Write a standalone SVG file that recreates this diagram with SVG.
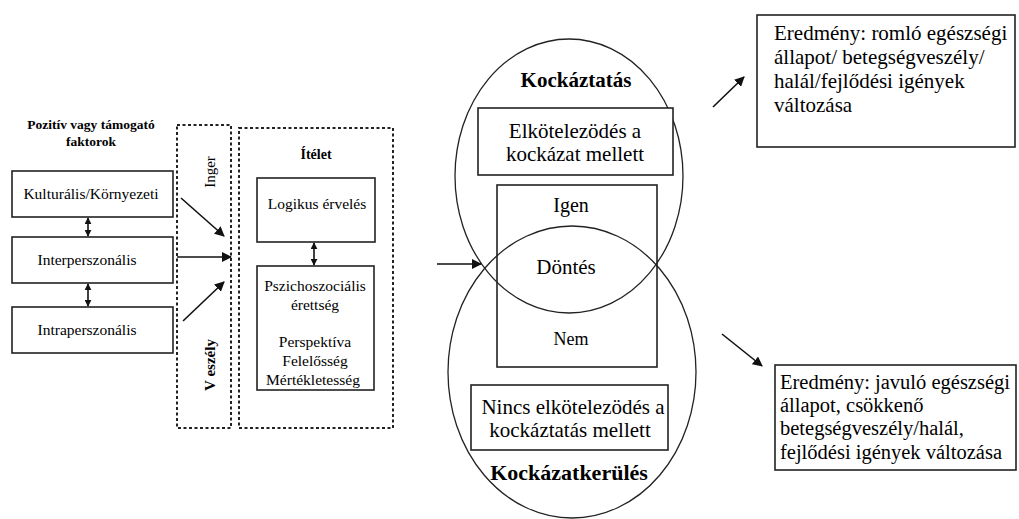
<svg xmlns="http://www.w3.org/2000/svg" width="1019" height="519" viewBox="0 0 1019 519">
<defs>
<marker id="ah" viewBox="0 0 10 10" refX="9" refY="5" markerWidth="10" markerHeight="10" markerUnits="userSpaceOnUse" orient="auto">
<path d="M0,0 L10,5 L0,10 z" fill="#111"/>
</marker>
<marker id="ahs" viewBox="0 0 10 10" refX="9" refY="5" markerWidth="7" markerHeight="7" markerUnits="userSpaceOnUse" orient="auto-start-reverse">
<path d="M0,0 L10,5 L0,10 z" fill="#111"/>
</marker>
</defs>
<style>
.box{fill:#fff;stroke:#222;stroke-width:1.6}
.dash{fill:none;stroke:#222;stroke-width:2;stroke-dasharray:3,2.5}
.ell{fill:none;stroke:#222;stroke-width:1.3}
.ln{stroke:#111;stroke-width:1.6;fill:none}
</style>
<rect width="1019" height="519" fill="#fff"/>
<g id="title">
<text font-family="'Liberation Serif', serif" font-size="13.5" font-weight="bold" text-anchor="middle" x="91" y="129">Pozitív vagy támogató</text>
<text font-family="'Liberation Serif', serif" font-size="13.5" font-weight="bold" text-anchor="middle" x="91" y="146">faktorok</text>
</g>
<g id="kulturalis">
<rect class="box" x="12" y="171" width="161" height="46"/>
<text font-family="'Liberation Serif', serif" font-size="15.5" text-anchor="middle" x="91" y="199">Kulturális/Környezeti</text>
</g>
<g id="interperszonalis">
<rect class="box" x="12" y="237" width="161" height="46"/>
<text font-family="'Liberation Serif', serif" font-size="15.5" text-anchor="middle" x="87" y="265">Interperszonális</text>
</g>
<g id="intraperszonalis">
<rect class="box" x="12" y="307" width="161" height="46"/>
<text font-family="'Liberation Serif', serif" font-size="15.5" text-anchor="middle" x="87" y="335">Intraperszonális</text>
</g>
<g id="inger-veszely">
<rect class="dash" x="177" y="125" width="54" height="303"/>
<text font-family="'Liberation Serif', serif" font-size="15" text-anchor="middle" transform="translate(215,172) rotate(-90)">Inger</text>
<text font-family="'Liberation Serif', serif" font-size="15" font-weight="bold" text-anchor="middle" transform="translate(215,365) rotate(-90)">V eszély</text>
</g>
<g id="itelet">
<rect class="dash" x="239" y="128" width="154" height="300"/>
<text font-family="'Liberation Serif', serif" font-size="14" font-weight="bold" text-anchor="middle" x="316" y="159">Ítélet</text>
</g>
<g id="logikus">
<rect class="box" x="257" y="178" width="118" height="64"/>
<text font-family="'Liberation Serif', serif" font-size="15.5" text-anchor="middle" x="317" y="209">Logikus érvelés</text>
</g>
<g id="pszichoszocialis">
<rect class="box" x="257" y="266" width="117" height="124"/>
<text font-family="'Liberation Serif', serif" font-size="15.5" text-anchor="middle" x="315" y="291">Pszichoszociális</text>
<text font-family="'Liberation Serif', serif" font-size="15.5" text-anchor="middle" x="315" y="310">érettség</text>
<text font-family="'Liberation Serif', serif" font-size="15.5" text-anchor="middle" x="315" y="347">Perspektíva</text>
<text font-family="'Liberation Serif', serif" font-size="15.5" text-anchor="middle" x="315" y="366">Felelősség</text>
<text font-family="'Liberation Serif', serif" font-size="15.5" text-anchor="middle" x="313" y="385">Mértékletesség</text>
</g>
<g id="kockaztatas">
<ellipse class="ell" cx="569" cy="176" rx="114" ry="137"/>
<text font-family="'Liberation Serif', serif" font-size="21" font-weight="bold" text-anchor="middle" x="576" y="87">Kockáztatás</text>
</g>
<g id="kockazatkerules">
<ellipse class="ell" cx="572" cy="372" rx="124" ry="146"/>
<text font-family="'Liberation Serif', serif" font-size="22" font-weight="bold" text-anchor="middle" x="569" y="480">Kockázatkerülés</text>
</g>
<g id="elkotelezodes">
<rect class="box" x="478" y="108" width="195" height="67"/>
<text font-family="'Liberation Serif', serif" font-size="21" text-anchor="middle" x="575" y="138">Elkötelezödés a</text>
<text font-family="'Liberation Serif', serif" font-size="21" text-anchor="middle" x="575" y="161">kockázat mellett</text>
</g>
<g id="dontes">
<rect fill="none" stroke="#222" stroke-width="1.6" x="497" y="185" width="160" height="182"/>
<text font-family="'Liberation Serif', serif" font-size="20" text-anchor="middle" x="571" y="212">Igen</text>
<text font-family="'Liberation Serif', serif" font-size="21" text-anchor="middle" x="566" y="274">Döntés</text>
<text font-family="'Liberation Serif', serif" font-size="18" text-anchor="middle" x="571" y="345">Nem</text>
</g>
<g id="nincs">
<rect class="box" x="471" y="385" width="197" height="65"/>
<text font-family="'Liberation Serif', serif" font-size="21" text-anchor="middle" x="573" y="414">Nincs elkötelezödés a</text>
<text font-family="'Liberation Serif', serif" font-size="21" text-anchor="middle" x="570" y="437">kockáztatás mellett</text>
</g>
<g id="eredmeny-romlo">
<rect class="box" x="757" y="15" width="258" height="132"/>
<text font-family="'Liberation Serif', serif" font-size="21" x="774" y="40">Eredmény: romló egészségi</text>
<text font-family="'Liberation Serif', serif" font-size="21" x="774" y="64">állapot/ betegségveszély/</text>
<text font-family="'Liberation Serif', serif" font-size="21" x="774" y="88">halál/fejlődési igények</text>
<text font-family="'Liberation Serif', serif" font-size="21" x="774" y="112">változása</text>
</g>
<g id="eredmeny-javulo">
<rect class="box" x="775" y="365" width="241" height="105"/>
<text font-family="'Liberation Serif', serif" font-size="20.5" x="780" y="389">Eredmény: javuló egészségi</text>
<text font-family="'Liberation Serif', serif" font-size="20.5" x="780" y="412">állapot, csökkenő</text>
<text font-family="'Liberation Serif', serif" font-size="20.5" x="780" y="435">betegségveszély/halál,</text>
<text font-family="'Liberation Serif', serif" font-size="20.5" x="780" y="459">fejlődési igények változása</text>
</g>
<g id="connectors">
<line class="ln" x1="88" y1="218" x2="88" y2="236" marker-start="url(#ahs)" marker-end="url(#ahs)"/>
<line class="ln" x1="88" y1="284" x2="88" y2="306" marker-start="url(#ahs)" marker-end="url(#ahs)"/>
<line class="ln" x1="314" y1="243" x2="314" y2="265" marker-start="url(#ahs)" marker-end="url(#ahs)"/>
<line class="ln" x1="181" y1="198" x2="224" y2="236" marker-end="url(#ah)"/>
<line class="ln" x1="177" y1="257" x2="231" y2="257" marker-end="url(#ah)"/>
<line class="ln" x1="183" y1="321" x2="224" y2="282" marker-end="url(#ah)"/>
<line class="ln" x1="437" y1="264" x2="481" y2="264" marker-end="url(#ah)"/>
<line class="ln" x1="713" y1="107" x2="744" y2="77" marker-end="url(#ah)"/>
<line class="ln" x1="722" y1="334" x2="762" y2="366" marker-end="url(#ah)"/>
</g>
</svg>
